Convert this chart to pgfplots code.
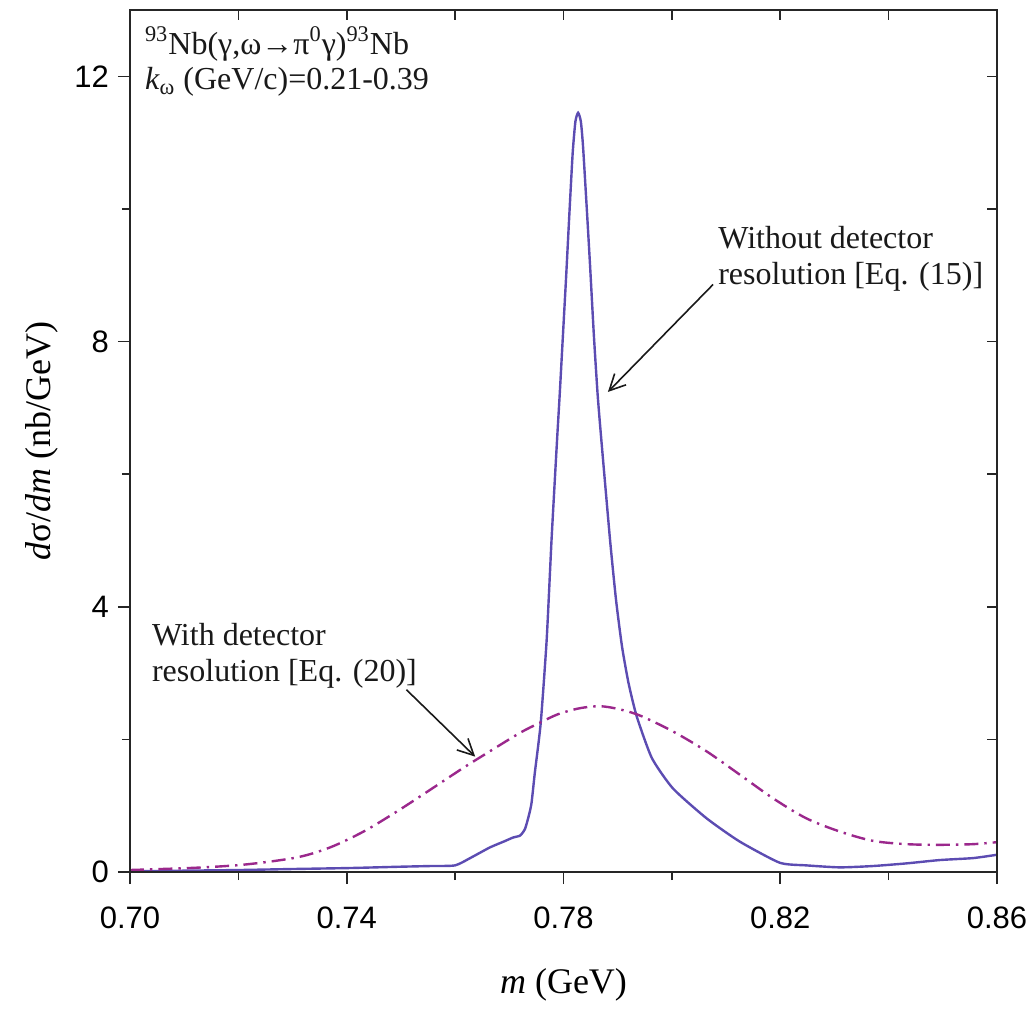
\documentclass[border=0pt]{standalone}
\usepackage{pgfplots}
\pgfplotsset{compat=1.18}
\usepackage{fontspec}
\setmainfont{Liberation Serif}
\setsansfont{Liberation Sans}
\usetikzlibrary{arrows.meta}
\definecolor{solidc}{HTML}{5C4CB2}
\definecolor{dashc}{HTML}{9B288C}
\begin{document}
\begin{tikzpicture}
\begin{axis}[
  name=ax,
  scale only axis, width=433.5pt, height=431pt,
  xmin=0.70, xmax=0.86, ymin=0, ymax=13,
  axis line style={line width=0.9pt, black!85},
  xtick={0.70,0.74,0.78,0.82,0.86},
  xticklabels={0.70,0.74,0.78,0.82,0.86},
  ytick={0,4,8,12},
  minor xtick={0.72,0.76,0.80,0.84},
  minor ytick={2,6,10},
  xtick pos=left, ytick pos=left,
  tick align=outside,
  major tick length=6pt, minor tick length=4pt,
  tick style={line width=0.8pt, black!85},
  /pgf/number format/assume math mode=true,
  ticklabel style={font=\fontsize{15.5}{18}\sffamily},
  xticklabel style={yshift=-8pt},
  yticklabel style={xshift=-1pt},
  every axis x label/.style={at={(axis description cs:0.5,0)}, yshift=-56.5pt, anchor=center},
  every axis y label/.style={at={(axis description cs:0,0.5)}, xshift=-44pt, rotate=90, anchor=center},
  xlabel={\fontsize{18}{20}\selectfont\textit{m} (GeV)},
  ylabel={\fontsize{18}{20}\selectfont\textit{d}σ/\textit{dm} (nb/GeV)},
  clip=true,
]
\addplot[solidc, line width=1.2pt, smooth, tension=0.35] coordinates {
(0.700,0.01) (0.710,0.02) (0.7203,0.03) (0.730,0.045) (0.7406,0.06)
(0.750,0.08) (0.7554,0.09) (0.7600,0.10) (0.7630,0.22) (0.7664,0.37)
(0.7690,0.46) (0.7707,0.52) (0.7720,0.55) (0.7729,0.65) (0.7736,0.85)
(0.7741,1.04) (0.7747,1.49) (0.7758,2.25) (0.7769,3.51) (0.7778,5.02)
(0.7788,6.50) (0.7793,7.20) (0.7799,8.10) (0.7805,9.00) (0.7811,9.95)
(0.7817,10.85) (0.7822,11.32) (0.7827,11.45) (0.7832,11.32) (0.7836,10.95)
(0.7843,10.00) (0.7849,9.15) (0.7856,8.10) (0.7863,7.20) (0.7870,6.50)
(0.7886,5.00) (0.7897,4.10) (0.7908,3.40) (0.7920,2.85) (0.7935,2.35) (0.7963,1.72)
(0.8002,1.26) (0.8064,0.81) (0.8125,0.46) (0.8199,0.14) (0.8248,0.10)
(0.8310,0.07) (0.8371,0.09) (0.8433,0.13) (0.8494,0.18) (0.8556,0.21)
(0.8600,0.26)
};
\addplot[dashc, line width=1.2pt, smooth, dash pattern=on 7pt off 3pt on 1.2pt off 3pt] coordinates {
(0.700,0.03) (0.7123,0.065) (0.7215,0.115) (0.7308,0.22) (0.7369,0.37)
(0.7431,0.61) (0.7492,0.91) (0.7554,1.24) (0.7615,1.57) (0.7664,1.82)
(0.7720,2.10) (0.7756,2.25) (0.7790,2.38) (0.7830,2.47) (0.7867,2.50)
(0.7900,2.46) (0.7941,2.36) (0.8002,2.12) (0.8064,1.82) (0.8125,1.47)
(0.8187,1.11) (0.8248,0.81) (0.8310,0.61) (0.8371,0.47) (0.8433,0.42)
(0.8494,0.41) (0.8556,0.42) (0.8600,0.45)
};
\draw[line width=0.8pt, black!90, -{Straight Barb[length=8pt,width=8pt]}] (axis cs:0.8076,8.86) -- (axis cs:0.7882,7.24);
\draw[line width=0.8pt, black!90, -{Straight Barb[length=8pt,width=8pt]}] (axis cs:0.7510,2.75) -- (axis cs:0.7637,1.74);
\node[anchor=north west, align=left, inner sep=0pt, font=\fontsize{16}{17.5}\selectfont, text=black!90]
  at (axis cs:0.7027,12.75) {\textsuperscript{93}Nb(γ,ω→π\textsuperscript{0}γ)\textsuperscript{93}Nb\\ \textit{k}\textsubscript{ω} (GeV/c)=0.21-0.39};
\node[anchor=north west, align=left, inner sep=0pt, font=\fontsize{16}{18}\selectfont, text=black!90]
  at (axis cs:0.8085,9.75) {Without detector\\resolution [Eq. (15)]};
\node[anchor=north west, align=left, inner sep=0pt, font=\fontsize{16}{18}\selectfont, text=black!90]
  at (axis cs:0.7040,3.75) {With detector\\resolution [Eq. (20)]};
\end{axis}
\begin{axis}[
  scale only axis, width=433.5pt, height=431pt,
  xmin=0.70, xmax=0.86, ymin=0, ymax=13,
  axis line style={line width=0.9pt, black!85},
  xtick={0.70,0.72,...,0.86}, ytick={0,2,...,12},
  xticklabels={}, yticklabels={},
  xtick pos=right, ytick pos=right,
  tick align=inside,
  major tick length=5pt,
  tick style={line width=0.8pt, black!85},
]
\end{axis}
\pgfresetboundingbox
\path (ax.south west) ++(-65pt,-68pt) rectangle ++(517pt,504pt);
\end{tikzpicture}
\end{document}
